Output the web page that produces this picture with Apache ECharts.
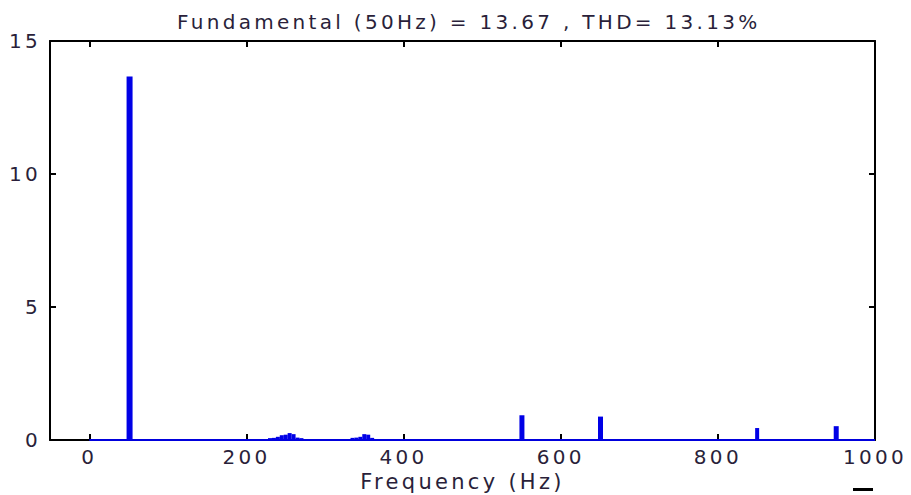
<!DOCTYPE html>
<html>
<head>
<meta charset="utf-8">
<script src="https://cdn.jsdelivr.net/npm/echarts@6/dist/echarts.min.js"></script>
<style>
html,body{margin:0;padding:0;background:#fff}
#c{width:911px;height:495px}
#c svg text{letter-spacing:3.3px}
</style>
</head>
<body>
<div id="c"></div>
<script>
const titleText = "Fundamental (50Hz) = 13.67 , THD= 13.13%";
const xAxisName = "Frequency (Hz)";
const xTicks = [0, 200, 400, 600, 800, 1000];
const yTicks = [0, 5, 10, 15];
const fundFreq = [50];
const fundMag = [13.67];
const harmFreq = [550, 650, 950];
const harmMag = [0.93, 0.88, 0.52];
const sideFreq = [230, 235, 240, 245, 250, 255, 260, 265, 270, 335, 340, 345, 350, 355, 360, 850];
const sideMag = [0.07, 0.08, 0.12, 0.18, 0.2, 0.26, 0.22, 0.09, 0.07, 0.08, 0.09, 0.12, 0.22, 0.2, 0.08, 0.45];
const baseFreq = [0, 1000];
const baseMag = [0, 0];

const zip = (a, b) => a.map((v, i) => [v, b[i]]);
const txt = '#2a1f3a';
const font = '"DejaVu Sans", sans-serif';

const chart = echarts.init(document.getElementById('c'), null, { renderer: 'svg' });
const tick = (vals) => ({ show: true, inside: true, length: 6, customValues: vals, lineStyle: { color: '#000', width: 2 } });
const line = { show: true, onZero: false, lineStyle: { color: '#000', width: 2 } };
const fmt = (v) => String(v);
chart.setOption({
  animation: false,
  title: { text: titleText, left: 172, top: 7, textStyle: { fontFamily: font, fontSize: 20, fontWeight: 'normal', color: txt } },
  grid: { left: 50, top: 41, right: 36, bottom: 55, containLabel: false, outerBoundsMode: 'none' },
  xAxis: [
    {
      type: 'value', min: -50, max: 1000, position: 'bottom',
      axisLine: line, axisTick: tick(xTicks), splitLine: { show: false },
      name: xAxisName, nameLocation: 'middle', nameGap: 27,
      nameTextStyle: { fontFamily: font, fontSize: 21, color: txt },
      axisLabel: { customValues: xTicks, formatter: fmt, fontFamily: font, fontSize: 20, color: txt, margin: 7 }
    },
    {
      type: 'value', min: -50, max: 1000, position: 'top',
      axisLine: line, axisTick: tick(xTicks), splitLine: { show: false },
      axisLabel: { show: false }
    }
  ],
  yAxis: [
    {
      type: 'value', min: 0, max: 15, position: 'left',
      axisLine: line, axisTick: tick(yTicks), splitLine: { show: false },
      axisLabel: { customValues: yTicks, formatter: fmt, fontFamily: font, fontSize: 20, color: txt, margin: 9 }
    },
    {
      type: 'value', min: 0, max: 15, position: 'right',
      axisLine: line, axisTick: tick(yTicks), splitLine: { show: false },
      axisLabel: { show: false }
    }
  ],
  series: [
    { type: 'line', data: zip(baseFreq, baseMag), symbol: 'none', lineStyle: { color: '#0000dd', width: 2 }, z: 3 },
    { type: 'bar', data: zip(fundFreq, fundMag), barWidth: 6, itemStyle: { color: '#0000e6' }, z: 4 },
    { type: 'bar', data: zip(harmFreq, harmMag), barWidth: 5, barGap: '-100%', itemStyle: { color: '#0000e6' }, z: 4 },
    { type: 'bar', data: zip(sideFreq, sideMag), barWidth: 4, barGap: '-100%', itemStyle: { color: '#0000e6' }, z: 4 }
  ],
  graphic: [
    { type: 'rect', left: 853, top: 488, shape: { width: 20, height: 3 }, style: { fill: '#000' } }
  ]
});
</script>
</body>
</html>
